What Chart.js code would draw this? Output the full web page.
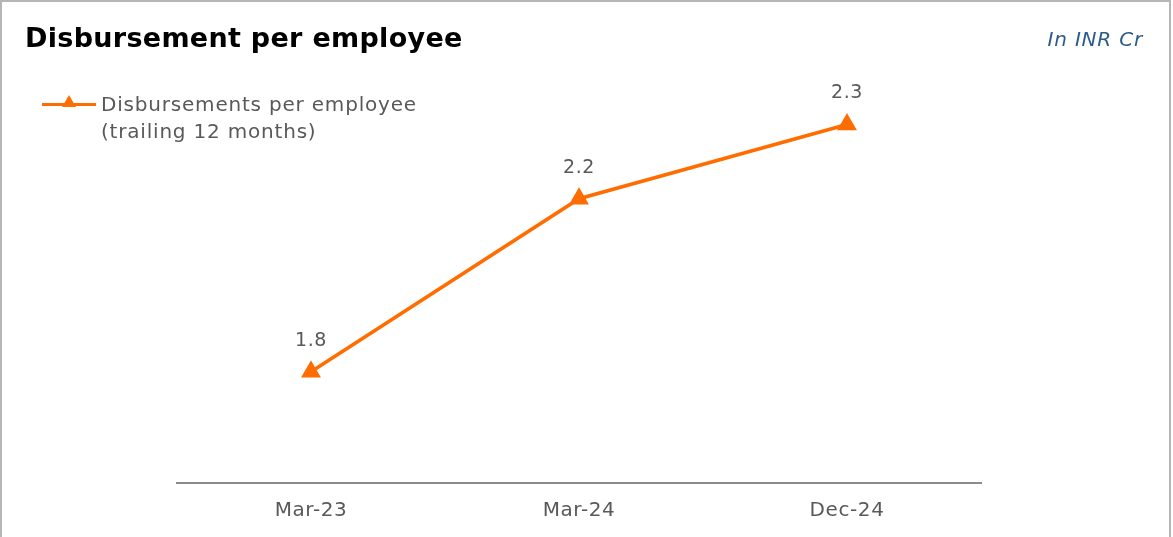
<!DOCTYPE html>
<html>
<head>
<meta charset="utf-8">
<script src="https://cdn.jsdelivr.net/npm/chart.js@4/dist/chart.umd.min.js"></script>
<style>
  html, body { margin: 0; padding: 0; background: #fff; }
  body { width: 1173px; height: 537px; position: relative; overflow: hidden; font-family: 'DejaVu Sans', sans-serif; }
  .frame { position: absolute; left: 0; top: 0; width: 1167px; height: 545px; border: 2px solid #b5b5b5; }
  .title { position: absolute; left: 25px; top: 22px; font-size: 27px; font-weight: 700; color: #000; letter-spacing: 0.3px; }
  .unit { position: absolute; right: 30px; top: 27px; font-size: 20px; font-style: italic; color: #2d5b8a; letter-spacing: 0.8px; }
  .legend { position: absolute; left: 42px; top: 91px; font-size: 20px; color: #595959; line-height: 27px; letter-spacing: 0.8px; }
  .legend .key { position: absolute; left: 0; top: 12px; width: 54px; height: 3px; background: #ff6d00; }
  .legend .key::after { content: ''; position: absolute; left: 20px; top: -8px; border-left: 7px solid transparent; border-right: 7px solid transparent; border-bottom: 12px solid #ff6d00; }
  .legend .text { margin-left: 59px; }
  #chart { position: absolute; left: 0; top: 0; letter-spacing: 0.6px; }
</style>
</head>
<body>
<div class="frame"></div>
<canvas id="chart" width="1173" height="539"></canvas>
<div class="title">Disbursement per employee</div>
<div class="unit">In INR Cr</div>
<div class="legend"><div class="key"></div><div class="text">Disbursements per employee<br>(trailing 12 months)</div></div>
<script>
// Disbursements per employee, trailing 12 months (INR Cr)
const periods = ['Mar-23', 'Mar-24', 'Dec-24'];
const disbPerEmployee = [1.83, 2.18, 2.33];

const ORANGE = '#ff6d00';
const GREY_TEXT = '#595959';
const FONT = 'DejaVu Sans';

// writes the one-decimal value above each triangle
const pointLabels = {
  id: 'pointLabels',
  afterDatasetsDraw(chart) {
    const { ctx } = chart;
    const meta = chart.getDatasetMeta(0);
    ctx.save();
    ctx.font = `19px "${FONT}"`;
    ctx.fillStyle = GREY_TEXT;
    ctx.textAlign = 'center';
    ctx.textBaseline = 'middle';
    meta.data.forEach((pt, i) => {
      ctx.fillText(disbPerEmployee[i].toFixed(1), pt.x, pt.y - 31);
    });
    ctx.restore();
  }
};

new Chart(document.getElementById('chart'), {
  type: 'line',
  data: {
    labels: periods,
    datasets: [{
      label: 'Disbursements per employee (trailing 12 months)',
      data: disbPerEmployee,
      borderColor: ORANGE,
      backgroundColor: ORANGE,
      borderWidth: 3.5,
      pointStyle: 'triangle',
      pointRadius: 8,
      pointHoverRadius: 8,
      tension: 0
    }]
  },
  options: {
    responsive: false,
    animation: false,
    layout: { padding: { left: 177, right: 192, top: 38, bottom: 0 } },
    plugins: { legend: { display: false }, tooltip: { enabled: false } },
    scales: {
      x: {
        offset: true,
        grid: { display: false, drawTicks: false },
        border: { color: '#8c8c8c', width: 2 },
        ticks: { color: GREY_TEXT, padding: 16, font: { size: 20, family: FONT } }
      },
      y: { display: false, min: 1.605, max: 2.505 }
    }
  },
  plugins: [pointLabels]
});
</script>
</body>
</html>
